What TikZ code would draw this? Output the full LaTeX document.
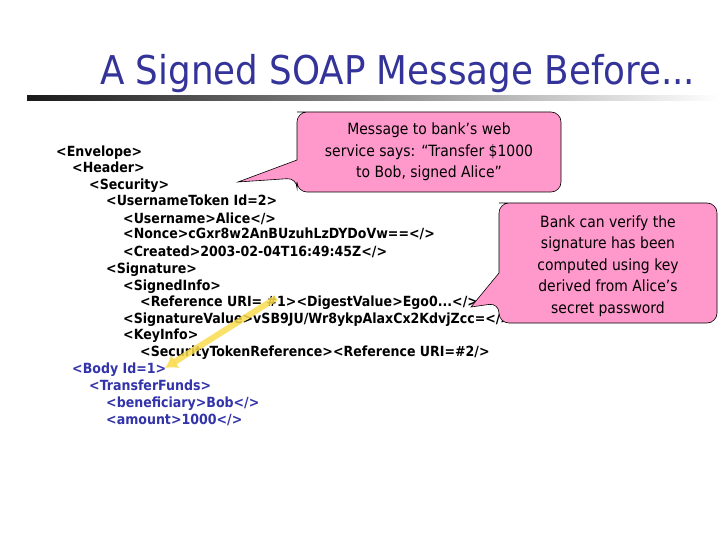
\documentclass[tikz,border=0pt]{standalone}
\usepackage{fontspec}
\usetikzlibrary{arrows.meta}
\setmainfont{DejaVu Sans Condensed}
\definecolor{navy}{RGB}{51,51,153}
\definecolor{bodyblue}{RGB}{51,51,170}
\definecolor{calloutpink}{RGB}{255,153,204}
\definecolor{arrowyellow}{RGB}{250,220,80}
\begin{document}
\begin{tikzpicture}[x=1pt,y=-1pt,
  code/.style={anchor=base west,inner sep=0pt,font=\fontsize{14}{16}\selectfont\bfseries},
  bodycode/.style={code,text=bodyblue},
  callout/.style={fill=calloutpink,draw=black,line width=0.6pt,rounded corners=10pt},
  callouttext/.style={align=center,font=\fontsize{15.5}{21.5}\selectfont,inner sep=0pt}]
\useasboundingbox (0,0) rectangle (720,540);
\fill[white] (0,0) rectangle (720,540);
% title
\node[anchor=base west,inner sep=0pt,text=navy] (title) at (100,85)
  {\resizebox{595pt}{!}{\fontsize{44}{50}\selectfont A Signed SOAP Message Before...}};
\shade[left color=black!90,right color=white] (27,96) rectangle (720,101);
% code
\node[code] (l1) at (56,157) {<Envelope>};
\node[code] (l2) at (72,173) {<Header>};
\node[code] (l3) at (89,190) {<Security>};
\node[code] (l4) at (106,206) {<UsernameToken Id=2>};
\node[code] (l5) at (123,223) {<Username>Alice</>};
\node[code] (l6) at (123,239) {<Nonce>cGxr8w2AnBUzuhLzDYDoVw==</>};
\node[code] (l7) at (123,256) {<Created>2003-02-04T16:49:45Z</>};
\node[code] (l8) at (106,273) {<Signature>};
\node[code] (l9) at (123,290) {<SignedInfo>};
\node[code] (l10) at (140,306) {<Reference URI= \#1><DigestValue>Ego0...</>};
\node[code] (l11) at (123,323) {<SignatureValue>vSB9JU/Wr8ykpAlaxCx2KdvjZcc=</>};
\node[code] (l12) at (123,339) {<KeyInfo>};
\node[code] (l13) at (140,356) {<SecurityTokenReference><Reference URI=\#2/>};
\node[bodycode] (l14) at (72,373) {<Body Id=1>};
\node[bodycode] (l15) at (89,390) {<TransferFunds>};
\node[bodycode] (l16) at (106,407) {<beneficiary>Bob</>};
\node[bodycode] (l17) at (106,424) {<amount>1000</>};
% yellow arrow
\coordinate (ya) at (276,298);
\coordinate (yb) at (165,368);
\draw[arrowyellow,opacity=0.85,line width=6pt,-{Latex[length=12pt,width=16pt]}] (ya) -- (yb);
% callout 1
\coordinate (t1) at (238,182);
\draw[callout] (297,112) -- (561,112) -- (561,192) -- (297,192) -- (297,178)
  [sharp corners] -- (t1) -- (297,160) [rounded corners=10pt] -- (297,112) -- (330,112);
\node[callouttext] (c1) at (429,152) {Message to bank’s web\\service says: “Transfer \$1000\\to Bob, signed Alice”};
% callout 2
\coordinate (t2) at (471,307);
\draw[callout] (499,203) -- (717,203) -- (717,323) -- (499,323) -- (499,303)
  [sharp corners] -- (t2) -- (499,273) [rounded corners=10pt] -- (499,203) -- (530,203);
\node[callouttext] (c2) at (608,266) {Bank can verify the\\signature has been\\computed using key\\derived from Alice’s\\secret password};
\end{tikzpicture}
\end{document}
